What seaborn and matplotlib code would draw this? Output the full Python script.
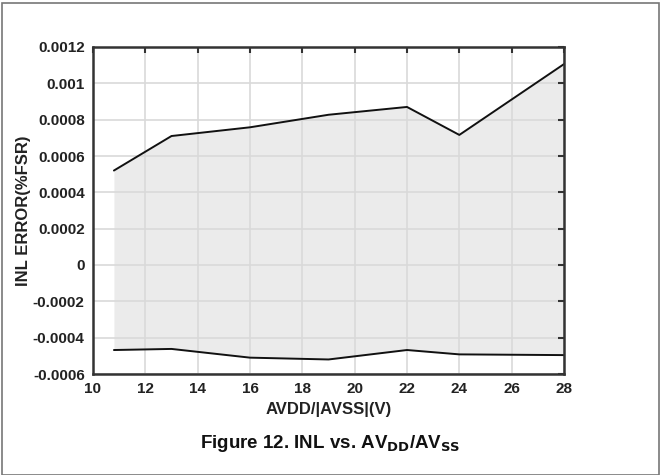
import matplotlib
matplotlib.use("Agg")
import matplotlib.pyplot as plt
import seaborn as sns
import pandas as pd
from matplotlib.patches import Rectangle

supply_v = [10.8, 13, 16, 19, 22, 24, 28]
inl_max = [0.00052, 0.00071, 0.000758, 0.000827, 0.00087, 0.000716, 0.001106]
inl_min = [-0.000468, -0.000462, -0.00051, -0.00052, -0.000468, -0.000492, -0.000496]
x_ticks = [10, 12, 14, 16, 18, 20, 22, 24, 26, 28]
y_ticks = [-0.0006, -0.0004, -0.0002, 0, 0.0002, 0.0004, 0.0006, 0.0008, 0.001, 0.0012]
y_labels = ["-0.0006", "-0.0004", "-0.0002", "0", "0.0002", "0.0004", "0.0006", "0.0008", "0.001", "0.0012"]

sns.set_style("white")
plt.rcParams['font.family'] = ['Liberation Sans', 'DejaVu Sans']

df = pd.DataFrame({"v": supply_v, "max": inl_max, "min": inl_min})

fig = plt.figure(figsize=(6.61, 4.75), dpi=100)
ax = fig.add_axes([93/661, 1-374/475, (564-93)/661, (374-47)/475])

ax.fill_between(df["v"], df["min"], df["max"], color="#ebebeb", zorder=1, linewidth=0)
sns.lineplot(data=df, x="v", y="max", ax=ax, color="#111111", linewidth=1.4, zorder=3)
sns.lineplot(data=df, x="v", y="min", ax=ax, color="#111111", linewidth=1.4, zorder=3)

ax.set_xlim(10, 28)
ax.set_ylim(-0.0006, 0.0012)
ax.set_xticks(x_ticks)
ax.set_xticklabels([str(t) for t in x_ticks], fontsize=11, fontweight="bold")
ax.set_yticks(y_ticks)
ax.set_yticklabels(y_labels, fontsize=11, fontweight="bold")
ax.grid(True, color="#d9d9d9", linewidth=1.2, zorder=2)
ax.set_axisbelow(False)
for line in ax.get_xgridlines() + ax.get_ygridlines():
    line.set_zorder(2)
ax.tick_params(direction="in", length=4, width=1.5, color="#333333", top=True, right=True,
               labelcolor="#222222")
ax.tick_params(axis="y", pad=6)
ax.tick_params(axis="x", pad=6)
for s in ax.spines.values():
    s.set_color("#333333")
    s.set_linewidth(1.8)
    s.set_zorder(5)

ax.set_xlabel("AVDD/|AVSS|(V)", fontsize=12, fontweight="bold", color="#222222", labelpad=4)
ax.set_ylabel("INL ERROR(%FSR)", fontsize=12, fontweight="bold", color="#222222", labelpad=1)

fig.text(0.5, 1-443/475, "Figure 12. INL vs. AV$_{\\mathbf{DD}}$/AV$_{\\mathbf{SS}}$",
         ha="center", va="center", fontsize=13.5, fontweight="bold", color="#111111")

fig.patches.append(Rectangle((2/661, 0), 1-4/661, 1-3/475, transform=fig.transFigure,
                             fill=False, edgecolor="#777777", linewidth=1.2))

fig.savefig("out.png", dpi=100)
